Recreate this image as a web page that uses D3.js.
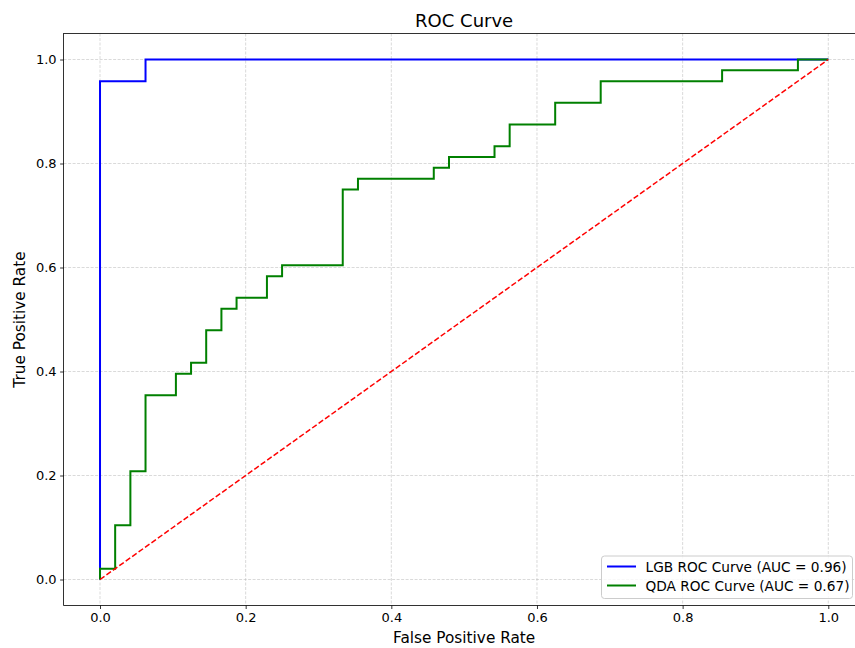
<!DOCTYPE html>
<html>
<head>
<meta charset="utf-8">
<script src="https://cdn.jsdelivr.net/npm/d3@7"></script>
<style>
  html, body { margin: 0; padding: 0; background: #fff; }
  svg { display: block; font-family: "DejaVu Sans", sans-serif; }
</style>
</head>
<body>
<svg id="chart" width="855" height="648"></svg>
<script>
// ROC curve corner points (false positive rate, true positive rate)
const lgbFpr = [0.0, 0.0, 0.0625, 0.0625, 1.0];
const lgbTpr = [0.0, 0.9583, 0.9583, 1.0, 1.0];

const qdaFpr = [0.0, 0.0, 0.0208, 0.0208, 0.0417, 0.0417, 0.0625, 0.0625, 0.1042, 0.1042,
  0.125, 0.125, 0.1458, 0.1458, 0.1667, 0.1667, 0.1875, 0.1875, 0.2292, 0.2292,
  0.25, 0.25, 0.3333, 0.3333, 0.3542, 0.3542, 0.4583, 0.4583, 0.4792, 0.4792,
  0.5417, 0.5417, 0.5625, 0.5625, 0.625, 0.625, 0.6875, 0.6875, 0.8542, 0.8542,
  0.9583, 0.9583, 1.0];
const qdaTpr = [0.0, 0.0208, 0.0208, 0.1042, 0.1042, 0.2083, 0.2083, 0.3542, 0.3542, 0.3958,
  0.3958, 0.4167, 0.4167, 0.4792, 0.4792, 0.5208, 0.5208, 0.5417, 0.5417, 0.5833,
  0.5833, 0.6042, 0.6042, 0.75, 0.75, 0.7708, 0.7708, 0.7917, 0.7917, 0.8125,
  0.8125, 0.8333, 0.8333, 0.875, 0.875, 0.9167, 0.9167, 0.9583, 0.9583, 0.9792,
  0.9792, 1.0, 1.0];

const chanceFpr = [0.0, 1.0];
const chanceTpr = [0.0, 1.0];

const xTicks = [0.0, 0.2, 0.4, 0.6, 0.8, 1.0];
const yTicks = [0.0, 0.2, 0.4, 0.6, 0.8, 1.0];

const seriesNames = ["LGB ROC Curve (AUC = 0.96)", "QDA ROC Curve (AUC = 0.67)"];
const seriesColors = ["#0000ff", "#008000"];

const titleText = "ROC Curve";
const xLabelText = "False Positive Rate";
const yLabelText = "True Positive Rate";

// Layout
const svg = d3.select("#chart");
const plot = { left: 63.6, right: 864.7, top: 33.5, bottom: 605.5 };

const x = d3.scaleLinear().domain([-0.05, 1.05]).range([plot.left, plot.right]);
const y = d3.scaleLinear().domain([-0.05, 1.05]).range([plot.bottom, plot.top]);

// Grid
const grid = svg.append("g").attr("class", "grid");
grid.selectAll("line.gx").data(xTicks).join("line")
  .attr("x1", d => x(d)).attr("x2", d => x(d))
  .attr("y1", plot.top).attr("y2", plot.bottom)
  .attr("stroke", "#b0b0b0").attr("stroke-opacity", 0.6)
  .attr("stroke-width", 0.8).attr("stroke-dasharray", "3,1.5");
grid.selectAll("line.gy").data(yTicks).join("line")
  .attr("y1", d => y(d)).attr("y2", d => y(d))
  .attr("x1", plot.left).attr("x2", plot.right)
  .attr("stroke", "#b0b0b0").attr("stroke-opacity", 0.6)
  .attr("stroke-width", 0.8).attr("stroke-dasharray", "3,1.5");

// Axes
const xAxis = d3.axisBottom(x).tickValues(xTicks).tickFormat(d3.format(".1f"))
  .tickSizeInner(3.5).tickSizeOuter(0).tickPadding(3.5);
const yAxis = d3.axisLeft(y).tickValues(yTicks).tickFormat(d3.format(".1f"))
  .tickSizeInner(3.5).tickSizeOuter(0).tickPadding(3.5);

const gx = svg.append("g").attr("transform", `translate(0,${plot.bottom})`).call(xAxis);
const gy = svg.append("g").attr("transform", `translate(${plot.left},0)`).call(yAxis);
[gx, gy].forEach(g => {
  g.select(".domain").remove();
  g.selectAll(".tick line").attr("stroke", "#000").attr("stroke-width", 0.8);
  g.selectAll(".tick text").attr("fill", "#000")
    .style("font-family", "DejaVu Sans, sans-serif").style("font-size", "13px");
});

// Lines
const line = d3.line().x(d => x(d[0])).y(d => y(d[1]));
const zip = (a, b) => a.map((v, i) => [v, b[i]]);

const curves = svg.append("g");
curves.append("path").datum(zip(lgbFpr, lgbTpr))
  .attr("d", line).attr("fill", "none")
  .attr("stroke", seriesColors[0]).attr("stroke-width", 2);
curves.append("path").datum(zip(qdaFpr, qdaTpr))
  .attr("d", line).attr("fill", "none")
  .attr("stroke", seriesColors[1]).attr("stroke-width", 2);
curves.append("path").datum(zip(chanceFpr, chanceTpr))
  .attr("d", line).attr("fill", "none")
  .attr("stroke", "#ff0000").attr("stroke-width", 1.5)
  .attr("stroke-dasharray", "5.5,2.4");

// Frame
svg.append("rect")
  .attr("x", plot.left).attr("y", plot.top)
  .attr("width", plot.right - plot.left).attr("height", plot.bottom - plot.top)
  .attr("fill", "none").attr("stroke", "#000").attr("stroke-width", 0.8);

// Title and axis labels
svg.append("text")
  .attr("x", (plot.left + plot.right) / 2).attr("y", 27)
  .attr("text-anchor", "middle").style("font-size", "18px").attr("fill", "#000")
  .text(titleText);
svg.append("text")
  .attr("x", (plot.left + plot.right) / 2).attr("y", 642.5)
  .attr("text-anchor", "middle").style("font-size", "15.3px").attr("fill", "#000")
  .text(xLabelText);
svg.append("text")
  .attr("transform", `translate(25,${(plot.top + plot.bottom) / 2}) rotate(-90)`)
  .attr("text-anchor", "middle").style("font-size", "15.3px").attr("fill", "#000")
  .text(yLabelText);

// Legend
const legend = svg.append("g");
legend.append("rect")
  .attr("x", 601.5).attr("y", 556).attr("width", 251).attr("height", 42.5)
  .attr("rx", 3).attr("ry", 3)
  .attr("fill", "#fff").attr("fill-opacity", 0.8)
  .attr("stroke", "#cccccc").attr("stroke-width", 1);
const rows = legend.selectAll("g.row").data(seriesNames).join("g")
  .attr("transform", (d, i) => `translate(0,${566.5 + i * 19})`);
rows.append("line")
  .attr("x1", 607).attr("x2", 636).attr("y1", 0).attr("y2", 0)
  .attr("stroke", (d, i) => seriesColors[i]).attr("stroke-width", 2);
rows.append("text")
  .attr("x", 645.5).attr("y", 5.3)
  .style("font-size", "13.7px").attr("fill", "#000")
  .text(d => d);
</script>
</body>
</html>
